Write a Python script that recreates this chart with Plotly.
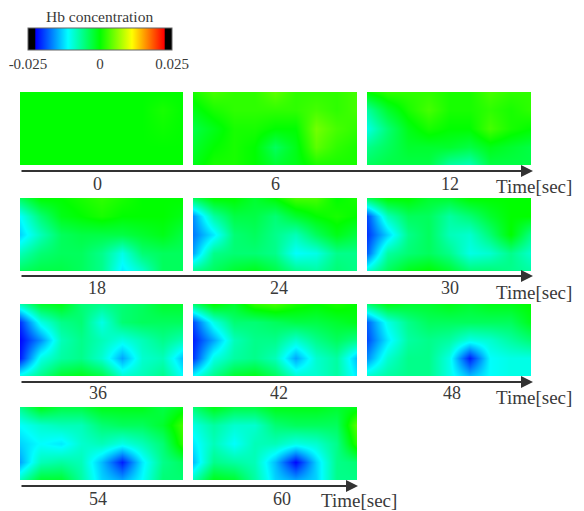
import numpy as np
import plotly.graph_objects as go

WIDTH, HEIGHT = 584, 511
FONT = "Liberation Serif"
INK = "#3a3a3a"

time_labels = ["0", "6", "12", "18", "24", "30", "36", "42", "48", "54", "60"]
tick_values = [-0.025, 0, 0.025]
tick_labels = ["-0.025", "0", "0.025"]

# Hb concentration, in units of 0.001 (rows top to bottom)
hb_0 = [[0, 0, 0, 0, 0, 0, 0, 0, 0], [0, 0, 0, 0, 0, 0, 0, 1, 0], [0, 0, 0, 0, 0, 0, 0, 0.5, 0],
        [0, 0, 0, 0, 0, 0, 0, 0, 0], [0, 0, 0, 0, 0, 0, 0, 0, 0]]
hb_6 = [[1, 3, 2, 2, 4, 2, 2, 2, 3], [-1, 1, 2, 2, 2, 2, 3, 2, 3], [-3, -1, 1, 1, 0, 0, 5, 3, 2],
        [-2, 0, 1, 0, -4, -1, 4, 2, 1], [-1, 1, 1, 0, -2, -1, 1, 1, 1]]
hb_12 = [[0, 2, 2, 2, 1, 1, 3, 2, 2], [-7, -2, 1, 3, 1, 1, 2, 1, 2], [-10, -5, -1, 1, 0, 0, 3, 1, 0],
         [-6, -4, -2, -2, -2, -3, -1, -2, -3], [-4, -3, -3, -3, -7, -8, -3, -3, -3]]
hb_18 = [[-4, 0, 0, 1, 2, 1, 0, 0, 0], [-11, -5, -1, 0, 1, 0, 0, 0, -1], [-13, -8, -4, -3, -3, -3, -2, -1, -3],
         [-8, -5, -4, -4, -6, -10, -5, -4, -4], [-4, -3, -3, -4, -6, -12, -9, -4, -4]]
hb_24 = [[-4, 0, 0, -2, 0, 3, 3, 0, 1], [-16, -7, -3, -3, -5, -2, 0, 1, 0], [-17, -12, -5, -4, -6, -8, -4, -1, -3],
         [-15, -6, -5, -5, -6, -11, -10, -6, -6], [-6, -4, -2, -1, -3, -6, -7, -5, -6]]
hb_30 = [[-4, 0, 0, -2, -2, 0, 0, 0, 0], [-19, -8, -4, -4, -7, -5, -2, 0, 0], [-20, -13, -6, -4, -8, -9, -5, 0, -6],
         [-18, -7, -5, -4, -6, -10, -9, -6, -9], [-9, -4, -1, 0, -2, -5, -5, -6, -7]]
hb_36 = [[-8, -2, -1, -5, -6, -5, -4, -2, -2], [-20, -10, -6, -5, -10, -5, -4, -4, -4], [-22, -16, -8, -6, -8, -10, -8, -6, -8],
         [-21, -10, -7, -6, -9, -15, -9, -8, -14], [-10, -6, -2, -1, -3, -9, -8, -6, -11]]
hb_42 = [[-5, 0, -2, 2, 3, 1, 0, 1, 0], [-19, -10, -5, -5, -4, -3, -3, -2, -1], [-21, -15, -8, -6, -6, -9, -6, -4, -6],
         [-20, -10, -7, -6, -8, -15, -9, -7, -14], [-11, -6, -2, -1, -4, -9, -9, -7, -12]]
hb_48 = [[-5, -1, -2, -2, -1, -2, -1, -1, 0], [-18, -10, -6, -4, -4, -4, -4, -4, -1], [-19, -12, -7, -6, -7, -10, -9, -7, -5],
         [-16, -9, -6, -6, -10, -21, -11, -10, -10], [-9, -7, -6, -6, -10, -14, -11, -10, -10]]
hb_54 = [[-6, -1, -3, -3, -1, -1, -1, -3, -1], [-11, -9, -8, -8, -5, -4, -4, -2, 3], [-13, -11, -12, -9, -8, -10, -8, -5, 2],
         [-15, -8, -7, -8, -14, -21, -12, -6, -4], [-8, -2, -2, -7, -13, -15, -11, -5, -5]]
hb_60 = [[-5, -1, -3, -3, -1, -1, -1, -2, -1], [-10, -7, -9, -9, -5, -4, -4, -4, 4], [-12, -8, -11, -8, -8, -10, -9, -6, 2],
         [-14, -6, -7, -8, -14, -22, -13, -6, -5], [-8, -1, -2, -7, -13, -15, -13, -6, -6]]
maps = [hb_0, hb_6, hb_12, hb_18, hb_24, hb_30, hb_36, hb_42, hb_48, hb_54, hb_60]

# Pixel layout of the panels
col_edges = [(20, 183), (193, 357), (367, 531)]
row_edges = [(92, 165), (198, 271), (304, 376), (407, 480)]
arrow_y = [171, 276, 382, 486]
label_x = [97, 275, 450, 97, 279, 450, 98, 279, 452, 98, 282]
label_y = [184, 288, 393, 499]
unit_y = [186, 292, 397, 500]


def fx(px):
    return px / WIDTH


def fy(py):
    return 1 - py / HEIGHT


colorscale = [
    [0.0, "#000000"], [0.045, "#000000"], [0.055, "#0000ff"], [0.278, "#00ffff"],
    [0.5, "#00ff00"], [0.722, "#ffff00"], [0.945, "#ff0000"], [0.955, "#000000"], [1.0, "#000000"],
]

fig = go.Figure()
annotations = []
layout_axes = {}
for i, (values, label) in enumerate(zip(maps, time_labels)):
    r, c = divmod(i, 3)
    n = i + 1
    z = np.array(values, dtype=float) * 0.001
    fig.add_trace(go.Heatmap(z=z, coloraxis="coloraxis", zsmooth="best", xaxis=f"x{n}", yaxis=f"y{n}",
                             hoverinfo="skip"))
    layout_axes[f"xaxis{n}"] = dict(domain=[fx(col_edges[c][0]), fx(col_edges[c][1])], range=[0, z.shape[1] - 1],
                                    visible=False, fixedrange=True, anchor=f"y{n}")
    layout_axes[f"yaxis{n}"] = dict(domain=[fy(row_edges[r][1]), fy(row_edges[r][0])], range=[z.shape[0] - 1, 0],
                                    visible=False, fixedrange=True, anchor=f"x{n}")
    annotations.append(dict(text=label, x=fx(label_x[i]), y=fy(label_y[r]), xref="paper", yref="paper",
                            showarrow=False, xanchor="center", yanchor="middle",
                            font=dict(family=FONT, size=18, color=INK)))

for r in range(4):
    end = 533 if r < 3 else 358
    annotations.append(dict(text="", x=fx(end), y=fy(arrow_y[r]), ax=20 - end, ay=0,
                            xref="paper", yref="paper", axref="pixel", ayref="pixel", showarrow=True,
                            arrowhead=2, arrowsize=1.2, arrowwidth=2, arrowcolor="#333333"))
    unit_x = 534 if r < 3 else 359
    annotations.append(dict(text="Time[sec]", x=fx(unit_x), y=fy(unit_y[r]), xref="paper", yref="paper",
                            showarrow=False, xanchor="center", yanchor="middle",
                            font=dict(family=FONT, size=19, color=INK)))

annotations.append(dict(text="Hb concentration", x=fx(99), y=fy(17), xref="paper", yref="paper",
                        showarrow=False, xanchor="center", yanchor="middle",
                        font=dict(family=FONT, size=15.5, color=INK)))

fig.update_layout(
    width=WIDTH, height=HEIGHT, margin=dict(l=0, r=0, t=0, b=0, pad=0), paper_bgcolor="white", plot_bgcolor="white",
    showlegend=False, annotations=annotations,
    coloraxis=dict(
        cmin=-0.025, cmax=0.025, colorscale=colorscale,
        colorbar=dict(
            orientation="h", x=fx(100), xanchor="center", y=fy(28), yanchor="top",
            lenmode="pixels", len=144, thicknessmode="pixels", thickness=22, xpad=0, ypad=0,
            outlinecolor="#666666", outlinewidth=1, ticks="", tickvals=tick_values, ticktext=tick_labels,
            tickfont=dict(family=FONT, size=15, color=INK), ticklabelposition="outside",
        ),
    ),
    **layout_axes,
)
fig.write_html("out.html", config={"displayModeBar": False},
               post_script="document.body.style.margin='0';")
